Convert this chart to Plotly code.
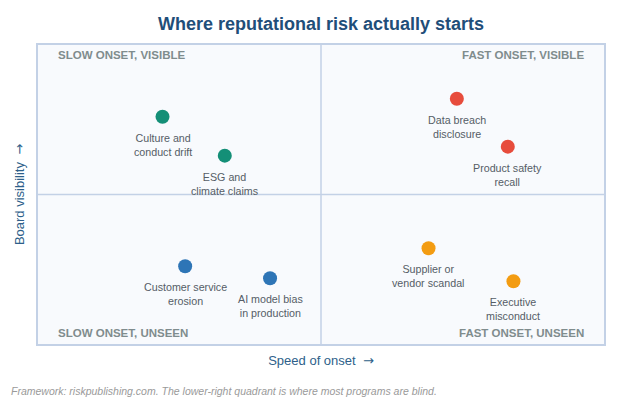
import plotly.graph_objects as go

# Risk positions: x = speed of onset, y = board visibility (0-10 scale)
risks = ["Culture and<br>conduct drift", "ESG and<br>climate claims",
         "Data breach<br>disclosure", "Product safety<br>recall",
         "Customer service<br>erosion", "AI model bias<br>in production",
         "Supplier or<br>vendor scandal", "Executive<br>misconduct"]
speed      = [2.2, 3.3, 7.4, 8.3, 2.6, 4.1, 6.9, 8.4]
visibility = [7.6, 6.3, 8.2, 6.6, 2.6, 2.2, 3.2, 2.1]
colors     = ["#148f77", "#148f77", "#e74c3c", "#e74c3c",
              "#2e75b6", "#2e75b6", "#f39c12", "#f39c12"]

quadrant_labels = ["SLOW ONSET, VISIBLE", "FAST ONSET, VISIBLE",
                   "SLOW ONSET, UNSEEN", "FAST ONSET, UNSEEN"]
quadrant_x      = [0.32, 9.68, 0.32, 9.68]
quadrant_y      = [9.93, 9.93, 0.1, 0.1]

font = "Liberation Sans, Arial, sans-serif"
line_col = "#c3d1e6"
arrow = "<span style='font-family:DejaVu Sans'>→</span>"

fig = go.Figure()
fig.add_trace(go.Scatter(
    x=speed, y=visibility, mode="markers",
    marker=dict(size=14, color=colors, line=dict(width=0)),
    text=risks, hoverinfo="text", showlegend=False))

# labels under each point
for name, sx, vy in zip(risks, speed, visibility):
    fig.add_annotation(x=sx, y=vy, text=name, showarrow=False,
                       xanchor="center", yanchor="top", yshift=-13,
                       font=dict(family=font, size=10.7, color="#555d66"))

for lab, qx, qy in zip(quadrant_labels, quadrant_x, quadrant_y):
    fig.add_annotation(x=qx, y=qy, text=f"<b>{lab}</b>", showarrow=False,
                       xanchor="left" if qx < 5 else "right",
                       yanchor="top" if qy > 5 else "bottom",
                       font=dict(family=font, size=11.5, color="#7f8c8d"))

fig.add_shape(type="line", x0=5, x1=5, y0=0, y1=10,
              line=dict(color=line_col, width=1.5), layer="below")
fig.add_shape(type="line", x0=0, x1=10, y0=5, y1=5,
              line=dict(color=line_col, width=1.5), layer="below")

fig.add_annotation(text="<i>Framework: riskpublishing.com. The lower-right quadrant is where most programs are blind.</i>",
                   xref="paper", yref="paper", x=-0.0512, y=-0.157,
                   xanchor="left", yanchor="middle", showarrow=False,
                   font=dict(family=font, size=10.5, color="#9a9a9a"))

axis = dict(range=[0, 10], showgrid=False, zeroline=False, showticklabels=False,
            ticks="", showline=True, linecolor=line_col, linewidth=1.5, mirror=True,
            fixedrange=True)
fig.update_layout(
    width=612, height=392,
    margin=dict(l=30, r=16, t=37, b=56),
    paper_bgcolor="white", plot_bgcolor="#f8fafd",
    title=dict(text="<b>Where reputational risk actually starts</b>",
               xref="paper", x=0.5, yref="container", y=0.959,
               xanchor="center", yanchor="middle",
               font=dict(family=font, size=18, color="#1f4e79")),
    xaxis=dict(axis, title=dict(text=f"Speed of onset  {arrow}", standoff=11,
                                font=dict(family=font, size=13, color="#2e5f8a"))),
    yaxis=dict(axis, title=dict(text=f"Board visibility  {arrow}", standoff=9,
                                font=dict(family=font, size=13, color="#2e5f8a"))),
)

fig.write_html("out.html")
